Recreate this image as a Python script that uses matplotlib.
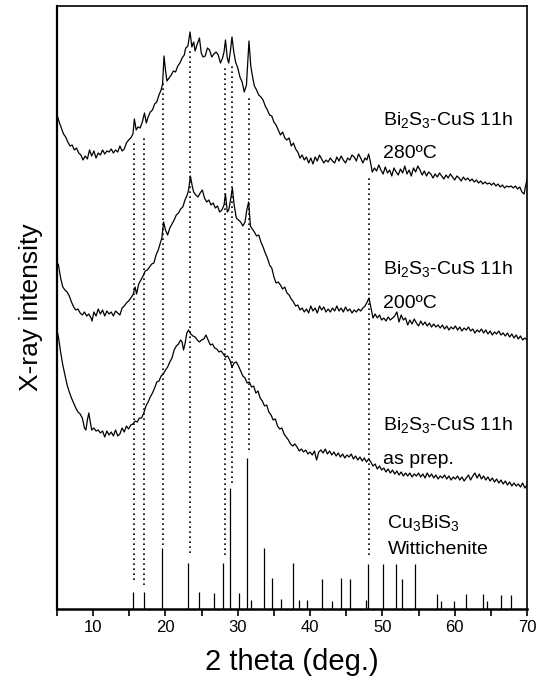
import matplotlib
matplotlib.use("Agg")
import matplotlib.pyplot as plt

plt.rcParams['font.family'] = ['Liberation Sans', 'DejaVu Sans']
plt.rcParams['mathtext.default'] = 'regular'

# ---------------- data ----------------
tt_280 = [5.0, 5.3, 5.6, 5.9, 6.2, 6.5, 6.8, 7.1, 7.4, 7.7, 8.0, 8.3, 8.6, 8.9, 9.2, 9.5, 9.8, 10.1, 10.4, 10.7,
          11.0, 11.3, 11.6, 11.9, 12.2, 12.5, 12.8, 13.1, 13.4, 13.7, 14.0, 14.3, 14.6, 14.9, 15.2, 15.5, 15.7, 15.95,
          16.2, 16.5, 16.8, 17.1, 17.35, 17.6, 17.9, 18.2, 18.5, 18.8, 19.1, 19.4, 19.6, 19.8, 20.0, 20.2, 20.5, 20.8,
          21.1, 21.4, 21.7, 22.0, 22.3, 22.6, 22.8, 23.1, 23.4, 23.65, 23.9, 24.1, 24.4, 24.7, 24.95, 25.2, 25.5, 25.8,
          26.1, 26.4, 26.7, 27.0, 27.3, 27.6, 27.9, 28.1, 28.3, 28.55, 28.75, 29.0, 29.2, 29.45, 29.7, 30.0, 30.3, 30.6,
          30.9, 31.2, 31.55, 31.8, 32.0, 32.3, 32.6, 32.9, 33.2, 33.5, 33.8, 34.1, 34.4, 34.7, 35.0, 35.3, 35.6, 35.9,
          36.2, 36.5, 36.8, 37.1, 37.4, 37.7, 38.0, 38.3, 38.6, 38.9, 39.2, 39.5, 39.8, 40.1, 40.4, 40.7, 41.0, 41.3,
          41.6, 41.9, 42.2, 42.5, 42.8, 43.1, 43.4, 43.7, 44.0, 44.3, 44.6, 44.9, 45.2, 45.5, 45.8, 46.1, 46.4, 46.7,
          47.0, 47.3, 47.6, 47.85, 48.1, 48.35, 48.6, 48.9, 49.2, 49.5, 49.8, 50.1, 50.4, 50.7, 51.0, 51.3, 51.6, 51.9,
          52.2, 52.5, 52.8, 53.1, 53.4, 53.7, 54.0, 54.3, 54.6, 54.9, 55.2, 55.5, 55.8, 56.1, 56.4, 56.7, 57.0, 57.3,
          57.6, 57.9, 58.2, 58.5, 58.8, 59.1, 59.4, 59.7, 60.0, 60.3, 60.6, 60.9, 61.2, 61.5, 61.8, 62.1, 62.4, 62.7,
          63.0, 63.3, 63.6, 63.9, 64.2, 64.5, 64.8, 65.1, 65.4, 65.7, 66.0, 66.3, 66.6, 66.9, 67.2, 67.5, 67.8, 68.1,
          68.4, 68.7, 69.0, 69.3, 69.6, 69.8, 70.0]
int_280 = [494, 487, 481, 475, 472, 467, 463, 464, 459, 461, 456, 454, 449, 453, 450, 459, 453, 458, 451, 456,
           454, 459, 455, 458, 457, 460, 456, 459, 457, 463, 458, 460, 466, 469, 471, 475, 490, 479,
           482, 481, 487, 496, 486, 492, 497, 499, 505, 507, 514, 519, 525, 553, 539, 528, 531, 534,
           538, 537, 543, 546, 551, 554, 561, 563, 577, 562, 567, 558, 565, 571, 556, 552, 553, 561,
           559, 552, 555, 557, 554, 546, 551, 557, 569, 551, 546, 559, 572, 557, 547, 541, 532, 527,
           517, 524, 568, 543, 534, 523, 519, 514, 512, 509, 503, 499, 494, 493, 487, 484, 479, 474,
           477, 471, 469, 471, 463, 466, 460, 457, 451, 454, 449, 452, 446, 451, 445, 452, 448, 454,
           450, 446, 449, 447, 451, 448, 446, 452, 448, 453, 449, 446, 451, 449, 454, 452, 448, 455,
           451, 446, 451, 449, 455, 447, 437, 441, 438, 444, 439, 435, 442, 436, 439, 433, 441, 437,
           434, 440, 436, 443, 435, 439, 433, 441, 437, 443, 439, 434, 438, 433, 437, 435, 431, 435,
           432, 436, 433, 430, 434, 431, 435, 432, 429, 433, 431, 428, 432, 429, 431, 428, 430, 427,
           429, 426, 428, 425, 427, 425, 426, 424, 426, 423, 425, 422, 424, 421, 423, 422, 423, 421,
           423, 420, 422, 417, 415, 423, 429]

tt_200 = [5.0, 5.2, 5.5, 5.8, 6.1, 6.4, 6.7, 7.0, 7.3, 7.6, 7.9, 8.2, 8.5, 8.8, 9.1, 9.4, 9.7, 9.85, 10.1, 10.4,
          10.7, 11.0, 11.3, 11.6, 11.9, 12.2, 12.5, 12.8, 13.1, 13.4, 13.7, 14.0, 14.3, 14.6, 14.9, 15.2, 15.5, 15.8,
          16.0, 16.3, 16.6, 16.9, 17.2, 17.5, 17.8, 18.1, 18.4, 18.7, 19.0, 19.3, 19.5, 19.75, 20.0, 20.3, 20.6, 20.9,
          21.2, 21.5, 21.8, 22.1, 22.4, 22.7, 23.0, 23.2, 23.45, 23.7, 23.9, 24.2, 24.5, 24.8, 25.1, 25.4, 25.7, 26.0,
          26.3, 26.6, 26.9, 27.2, 27.5, 27.8, 28.1, 28.3, 28.55, 28.75, 29.0, 29.25, 29.5, 29.8, 30.1, 30.4, 30.7, 31.0,
          31.25, 31.5, 31.75, 32.0, 32.3, 32.6, 32.9, 33.2, 33.5, 33.8, 34.1, 34.4, 34.7, 35.0, 35.3, 35.6, 35.9, 36.2,
          36.5, 36.8, 37.1, 37.4, 37.7, 38.0, 38.3, 38.6, 38.9, 39.2, 39.5, 39.8, 40.1, 40.4, 40.7, 41.0, 41.3, 41.6,
          41.9, 42.2, 42.5, 42.8, 43.1, 43.4, 43.7, 44.0, 44.3, 44.6, 44.9, 45.2, 45.5, 45.8, 46.1, 46.4, 46.7, 47.0,
          47.3, 47.6, 47.9, 48.15, 48.4, 48.7, 49.0, 49.3, 49.6, 49.9, 50.2, 50.5, 50.8, 51.1, 51.4, 51.7, 52.0, 52.3,
          52.6, 52.9, 53.2, 53.5, 53.8, 54.1, 54.4, 54.7, 55.0, 55.3, 55.6, 55.9, 56.2, 56.5, 56.8, 57.1, 57.4, 57.7,
          58.0, 58.3, 58.6, 58.9, 59.2, 59.5, 59.8, 60.1, 60.4, 60.7, 61.0, 61.3, 61.6, 61.9, 62.2, 62.5, 62.8, 63.1,
          63.4, 63.7, 64.0, 64.3, 64.6, 64.9, 65.2, 65.5, 65.8, 66.1, 66.4, 66.7, 67.0, 67.3, 67.6, 67.9, 68.2, 68.5,
          68.8, 69.1, 69.4, 69.7, 70.0]
int_200 = [347, 344, 331, 322, 319, 317, 313, 307, 302, 299, 300, 296, 294, 297, 293, 295, 291, 288, 297, 293,
           300, 295, 299, 293, 298, 295, 297, 293, 298, 296, 294, 301, 303, 306, 308, 311, 314, 322,
           315, 325, 329, 333, 338, 339, 342, 345, 346, 354, 359, 366, 371, 387, 379, 374, 381, 385,
           389, 394, 396, 400, 402, 409, 414, 419, 433, 423, 417, 414, 412, 416, 419, 411, 407, 409,
           404, 406, 401, 403, 397, 399, 404, 415, 397, 399, 409, 421, 404, 391, 389, 387, 383, 387,
           399, 407, 383, 380, 377, 373, 374, 367, 362, 356, 351, 344, 341, 332, 326, 327, 324, 320,
           322, 316, 314, 310, 307, 303, 304, 299, 301, 297, 300, 296, 303, 298, 301, 296, 303, 299,
           302, 297, 300, 297, 301, 298, 303, 298, 301, 297, 302, 298, 300, 296, 299, 297, 300, 298,
           301, 303, 307, 311, 302, 291, 295, 291, 294, 289, 291, 288, 292, 289, 291, 293, 297, 287,
           294, 289, 291, 284, 289, 285, 290, 286, 283, 288, 284, 287, 283, 286, 282, 285, 282, 284,
           281, 284, 280, 283, 279, 282, 280, 283, 279, 282, 278, 281, 279, 282, 278, 280, 276, 279,
           277, 280, 276, 279, 275, 278, 274, 277, 275, 278, 274, 276, 273, 276, 272, 275, 271, 274,
           270, 273, 269, 271, 269]

tt_prep = [5.0, 5.2, 5.5, 5.8, 6.1, 6.4, 6.7, 7.0, 7.3, 7.6, 7.9, 8.2, 8.5, 8.8, 9.0, 9.2, 9.4, 9.6, 9.8, 10.1,
           10.4, 10.7, 11.0, 11.3, 11.6, 11.9, 12.2, 12.5, 12.8, 13.1, 13.4, 13.7, 14.0, 14.3, 14.6, 14.9, 15.2, 15.5,
           15.8, 16.1, 16.4, 16.7, 17.0, 17.3, 17.6, 17.9, 18.2, 18.5, 18.8, 19.1, 19.4, 19.7, 20.0, 20.3, 20.6, 20.9,
           21.2, 21.5, 21.8, 22.1, 22.3, 22.5, 22.7, 22.95, 23.2, 23.5, 23.8, 24.1, 24.4, 24.7, 25.0, 25.3, 25.6, 25.9,
           26.2, 26.5, 26.8, 27.1, 27.4, 27.7, 28.0, 28.3, 28.6, 28.9, 29.2, 29.5, 29.8, 30.1, 30.4, 30.7, 31.0, 31.3,
           31.6, 31.9, 32.2, 32.5, 32.8, 33.1, 33.4, 33.7, 34.0, 34.3, 34.6, 34.9, 35.2, 35.5, 35.8, 36.1, 36.4, 36.7,
           37.0, 37.3, 37.6, 37.9, 38.2, 38.5, 38.8, 39.1, 39.4, 39.7, 40.0, 40.3, 40.6, 40.9, 41.2, 41.5, 41.8, 42.1,
           42.4, 42.7, 43.0, 43.3, 43.6, 43.9, 44.2, 44.5, 44.8, 45.1, 45.4, 45.7, 46.0, 46.3, 46.6, 46.9, 47.2, 47.5,
           47.8, 48.1, 48.4, 48.7, 49.0, 49.3, 49.6, 49.9, 50.2, 50.5, 50.8, 51.1, 51.4, 51.7, 52.0, 52.3, 52.6, 52.9,
           53.2, 53.5, 53.8, 54.1, 54.4, 54.7, 55.0, 55.3, 55.6, 55.9, 56.2, 56.5, 56.8, 57.1, 57.4, 57.7, 58.0, 58.3,
           58.6, 58.9, 59.2, 59.5, 59.8, 60.1, 60.4, 60.7, 61.0, 61.3, 61.6, 61.9, 62.2, 62.5, 62.8, 63.1, 63.4, 63.7,
           64.0, 64.3, 64.6, 64.9, 65.2, 65.5, 65.8, 66.1, 66.4, 66.7, 67.0, 67.3, 67.6, 67.9, 68.2, 68.5, 68.8, 69.1,
           69.4, 69.7, 70.0]
int_prep = [279, 272, 257, 244, 234, 224, 217, 211, 206, 201, 197, 195, 191, 181, 179, 189, 196, 187, 179, 181,
            178, 179, 176, 178, 172, 178, 174, 177, 173, 179, 173, 175, 181, 177, 183, 180, 184, 185,
            188, 187, 191, 191, 196, 203, 207, 212, 216, 221, 227, 228, 233, 235, 239, 242, 247, 251,
            259, 263, 265, 269, 267, 259, 265, 276, 279, 275, 273, 272, 269, 267, 269, 270, 274, 269,
            264, 265, 261, 260, 257, 258, 255, 252, 253, 249, 242, 246, 247, 243, 238, 233, 231, 226,
            227, 222, 223, 216, 218, 211, 208, 203, 204, 197, 194, 189, 190, 183, 180, 181, 175, 172,
            169, 165, 163, 165, 162, 158, 160, 157, 159, 155, 157, 154, 158, 149, 157, 159, 156, 160,
            155, 158, 154, 157, 153, 156, 152, 155, 151, 154, 152, 155, 150, 153, 149, 152, 148, 151,
            147, 150, 147, 143, 145, 140, 143, 139, 141, 137, 140, 136, 139, 135, 138, 134, 137, 133,
            136, 133, 136, 132, 135, 133, 136, 132, 135, 131, 136, 132, 135, 131, 134, 130, 133, 131,
            134, 130, 133, 129, 132, 130, 133, 129, 132, 128, 131, 134, 129, 133, 136, 131, 135, 130,
            133, 129, 132, 128, 131, 127, 130, 126, 129, 125, 128, 124, 127, 123, 126, 123, 125, 122,
            126, 121, 124]

# Cu3BiS3 (Wittichenite) reference pattern
stick_pos = [15.55, 17.03, 19.57, 23.17, 24.64, 26.7, 27.96, 28.97, 30.17, 31.28, 31.79, 33.58, 34.74, 36.03,
             37.69, 38.43, 39.53, 41.65, 43.04, 44.24, 45.53, 47.7, 48.02, 50.14, 51.84, 52.76, 54.56, 57.56,
             58.15, 59.91, 61.53, 63.97, 64.52, 66.37, 67.8]
stick_int = [17, 17, 61, 46, 17, 16, 46, 121, 16, 151, 9, 61, 31, 10,
             46, 9, 9, 30, 8, 31, 30, 9, 45, 45, 45, 30, 45, 15,
             8, 8, 15, 15, 8, 14, 14]

# dotted guide lines: position, lower end, upper end
guide_pos = [15.7, 17.05, 19.7, 23.4, 28.2, 29.15, 31.55, 48.1]
guide_low = [29, 24, 64, 56, 54, 126, 159, 54]
guide_high = [467, 474, 526, 559, 542, 546, 514, 434]

labels = [("Bi$_2$S$_3$-CuS 11h", 489), ("280ºC", 456),
          ("Bi$_2$S$_3$-CuS 11h", 340), ("200ºC", 306),
          ("Bi$_2$S$_3$-CuS 11h", 184), ("as prep.", 150),
          ("Cu$_3$BiS$_3$", 86), ("Wittichenite", 59)]
label_x = [50.1, 50.1, 50.1, 50.1, 50.1, 50.1, 50.7, 50.7]

xticks = [10, 20, 30, 40, 50, 60, 70]

# ---------------- figure ----------------
fig = plt.figure(figsize=(5.37, 6.84), dpi=100)
ax = fig.add_axes([57 / 537, 1 - 609 / 684, 470 / 537, 603 / 684])

for tt, yy in [(tt_280, int_280), (tt_200, int_200), (tt_prep, int_prep)]:
    ax.plot(tt, yy, color='black', lw=0.9)

ax.vlines(stick_pos, 0, stick_int, color='black', lw=0.9)
ax.vlines(guide_pos, guide_low, guide_high, color='black', lw=1.2, linestyles=(0, (1, 2)))

for (txt, yv), xv in zip(labels, label_x):
    ax.text(xv, yv, txt, fontsize=14, va='center', ha='left')

ax.set_xlim(5, 70)
ax.set_ylim(0, 603)
ax.set_xticks(xticks)
ax.set_xticks([5, 15, 25, 35, 45, 55, 65], minor=True)
ax.tick_params(axis='x', which='both', direction='out', length=5, width=1.2, labelsize=12, pad=3)
ax.set_yticks([])
for s in ax.spines.values():
    s.set_linewidth(1.2)
ax.spines['bottom'].set_linewidth(1.8)
ax.spines['left'].set_linewidth(1.6)

ax.set_xlabel("2 theta (deg.)", fontsize=21, labelpad=9)
ax.set_ylabel("X-ray intensity", fontsize=19, labelpad=10)

fig.savefig("out.png", dpi=100)
